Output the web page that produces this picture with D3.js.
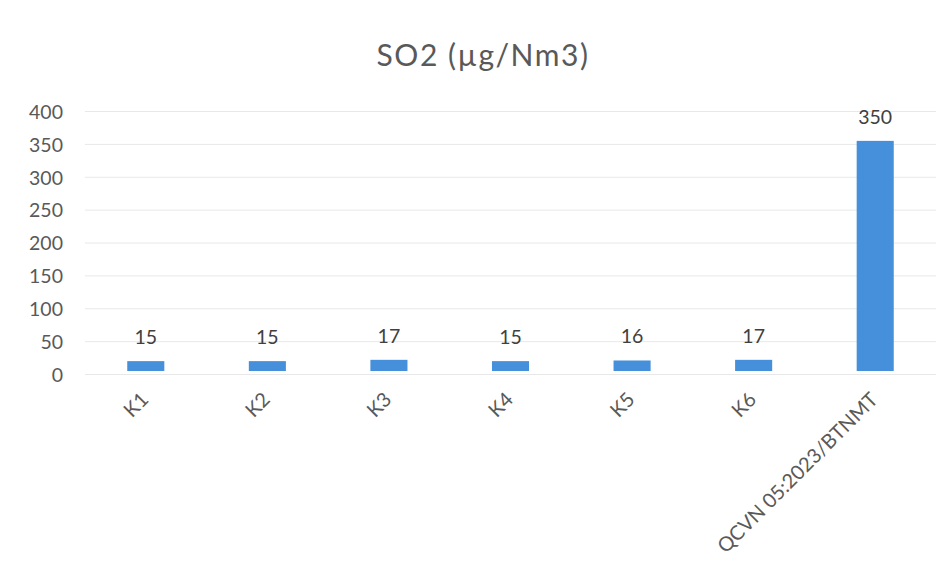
<!DOCTYPE html>
<html>
<head>
<meta charset="utf-8">
<script src="https://cdn.jsdelivr.net/npm/d3@7"></script>
<style>
  html, body { margin: 0; padding: 0; background: #ffffff; }
  svg { display: block; }
</style>
</head>
<body>
<svg id="chart" width="952" height="581"></svg>
<script>
// Sampling points and the national limit
const categories = ["K1", "K2", "K3", "K4", "K5", "K6", "QCVN 05:2023/BTNMT"];
const values = [15, 15, 17, 15, 16, 17, 350];
const yTicks = [0, 50, 100, 150, 200, 250, 300, 350, 400];
const title = "SO2 (µg/Nm3)";

const svg = d3.select("#chart");
const W = 952, H = 581;
const font = "Lato, 'Open Sans', 'DejaVu Sans', sans-serif";
const textColor = "#595959";

svg.append("rect").attr("width", W).attr("height", H).attr("fill", "#ffffff");

const x = d3.scaleBand()
  .domain(categories)
  .range([85, 936])
  .paddingInner(0.695)
  .paddingOuter(0.3475);

const y = d3.scaleLinear()
  .domain([0, 400])
  .range([371, 108]);

// Title
svg.append("text")
  .attr("x", 483)
  .attr("y", 66)
  .attr("text-anchor", "middle")
  .attr("font-family", font)
  .attr("font-size", 30)
  .attr("letter-spacing", 1.5)
  .attr("fill", textColor)
  .text(title);

// Horizontal gridlines
const grid = svg.append("g")
  .attr("transform", "translate(85,3)")
  .call(d3.axisLeft(y).tickValues(yTicks).tickSize(-(936 - 85)).tickFormat(""));
grid.select(".domain").remove();
grid.selectAll(".tick line")
  .attr("stroke", "#e8e8e8")
  .attr("stroke-width", 1);

// Y axis labels
const yAxis = svg.append("g")
  .attr("transform", "translate(72,0)")
  .call(d3.axisLeft(y).tickValues(yTicks).tickSize(0).tickPadding(9));
yAxis.select(".domain").remove();
yAxis.selectAll(".tick text")
  .attr("font-family", font)
  .attr("font-size", 19.5)
  .attr("fill", textColor)
  .attr("dy", "0.32em")
  .attr("transform", "translate(0,4)");

// Bars
svg.append("g")
  .selectAll("rect")
  .data(values)
  .join("rect")
  .attr("x", (d, i) => x(categories[i]))
  .attr("width", x.bandwidth())
  .attr("y", d => y(d))
  .attr("height", d => y(0) - y(d))
  .attr("fill", "#4690db");

// Value labels
svg.append("g")
  .selectAll("text")
  .data(values)
  .join("text")
  .attr("x", (d, i) => x(categories[i]) + x.bandwidth() / 2)
  .attr("y", d => y(d) - 17)
  .attr("text-anchor", "middle")
  .attr("font-family", font)
  .attr("font-size", 19.5)
  .attr("fill", "#404040")
  .text(d => d);

// Category labels, rotated
const xAxis = svg.append("g")
  .attr("transform", "translate(0,388)")
  .call(d3.axisBottom(x).tickSize(0).tickPadding(0));
xAxis.select(".domain").remove();
xAxis.selectAll(".tick text")
  .attr("font-family", font)
  .attr("font-size", 20)
  .attr("fill", textColor)
  .attr("text-anchor", "end")
  .attr("dy", "0.7em")
  .attr("transform", "translate(-6,3) rotate(-45)");
</script>
</body>
</html>
